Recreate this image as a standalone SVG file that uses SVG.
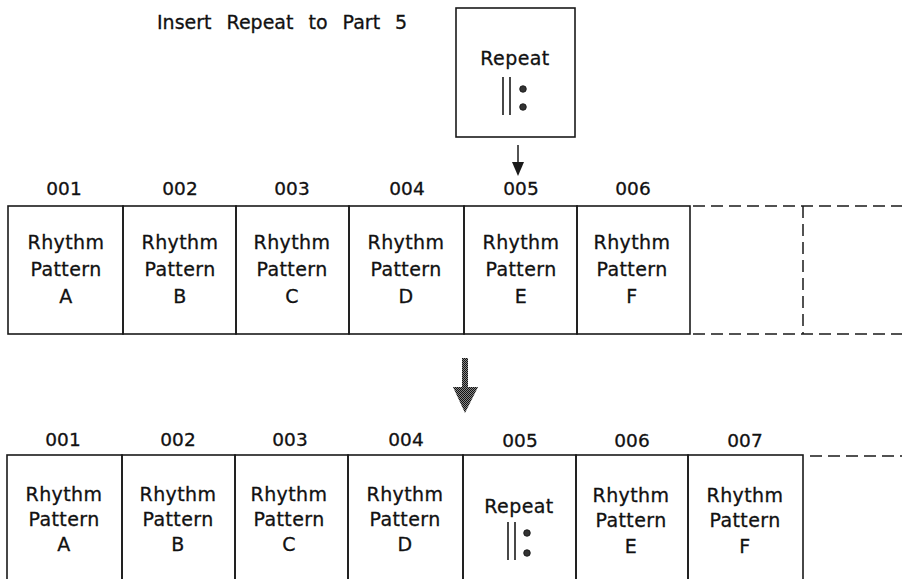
<svg xmlns="http://www.w3.org/2000/svg" width="902" height="579" viewBox="0 0 902 579">
<style>
  text { font-family: "DejaVu Sans", "Liberation Sans", sans-serif; fill: #111; stroke: #111; stroke-width: 0.3px; }
  .t { font-size: 19px; text-anchor: middle; letter-spacing: 0.4px; }
  .n { font-size: 18.5px; text-anchor: middle; }
  .cell { fill: none; stroke: #1a1a1a; stroke-width: 1.6; }
  .dash { fill: none; stroke: #1a1a1a; stroke-width: 1.5; stroke-dasharray: 12 6; }
  .bar { stroke: #1a1a1a; stroke-width: 1.6; }
  .dot { fill: #333; stroke: #111; stroke-width: 0.8; }
</style>
<defs>
  <pattern id="dither" width="2" height="2" patternUnits="userSpaceOnUse">
    <rect width="2" height="2" fill="#888"/>
    <rect x="0" y="0" width="1" height="1" fill="#111"/>
    <rect x="1" y="1" width="1" height="1" fill="#111"/>
  </pattern>
</defs>
<rect width="902" height="579" fill="#fff"/>

<g id="title">
  <text x="157" y="29" style="font-size:19px; word-spacing:9px">Insert Repeat to Part 5</text>
</g>

<g id="repeat-source">
  <rect class="cell" x="456" y="8" width="119" height="129"/>
  <text class="t" x="515" y="65">Repeat</text>
  <line class="bar" x1="503" y1="77" x2="503" y2="115"/>
  <line class="bar" x1="510" y1="77" x2="510" y2="115"/>
  <circle class="dot" cx="523" cy="89" r="3.3"/>
  <circle class="dot" cx="523" cy="107" r="3.3"/>
</g>

<!-- top row -->
<g id="top-001">
  <rect class="cell" x="8" y="206" width="115" height="128"/>
  <text class="n" x="64" y="195">001</text>
  <text class="t" x="66" y="249">Rhythm</text><text class="t" x="66" y="276">Pattern</text><text class="t" x="66" y="303">A</text>
</g>
<g id="top-002">
  <rect class="cell" x="123" y="206" width="113" height="128"/>
  <text class="n" x="180" y="195">002</text>
  <text class="t" x="180" y="249">Rhythm</text><text class="t" x="180" y="276">Pattern</text><text class="t" x="180" y="303">B</text>
</g>
<g id="top-003">
  <rect class="cell" x="236" y="206" width="113" height="128"/>
  <text class="n" x="292" y="195">003</text>
  <text class="t" x="292" y="249">Rhythm</text><text class="t" x="292" y="276">Pattern</text><text class="t" x="292" y="303">C</text>
</g>
<g id="top-004">
  <rect class="cell" x="349" y="206" width="115" height="128"/>
  <text class="n" x="407" y="195">004</text>
  <text class="t" x="406" y="249">Rhythm</text><text class="t" x="406" y="276">Pattern</text><text class="t" x="406" y="303">D</text>
</g>
<g id="top-005">
  <rect class="cell" x="464" y="206" width="113" height="128"/>
  <text class="n" x="521" y="195">005</text>
  <text class="t" x="521" y="249">Rhythm</text><text class="t" x="521" y="276">Pattern</text><text class="t" x="521" y="303">E</text>
</g>
<g id="top-006">
  <rect class="cell" x="577" y="206" width="113" height="128"/>
  <text class="n" x="633" y="195">006</text>
  <text class="t" x="632" y="249">Rhythm</text><text class="t" x="632" y="276">Pattern</text><text class="t" x="632" y="303">F</text>
</g>
<g id="top-empty">
  <line class="dash" x1="693" y1="206" x2="902" y2="206"/>
  <line class="dash" x1="693" y1="334" x2="902" y2="334"/>
  <line class="dash" x1="803" y1="206" x2="803" y2="334"/>
</g>

<!-- bottom row -->
<g id="bot-001">
  <rect class="cell" x="7" y="455" width="115" height="140"/>
  <text class="n" x="63" y="446">001</text>
  <text class="t" x="64" y="501">Rhythm</text><text class="t" x="64" y="526">Pattern</text><text class="t" x="64" y="551">A</text>
</g>
<g id="bot-002">
  <rect class="cell" x="122" y="455" width="113" height="140"/>
  <text class="n" x="178" y="446">002</text>
  <text class="t" x="178" y="501">Rhythm</text><text class="t" x="178" y="526">Pattern</text><text class="t" x="178" y="551">B</text>
</g>
<g id="bot-003">
  <rect class="cell" x="235" y="455" width="113" height="140"/>
  <text class="n" x="290" y="446">003</text>
  <text class="t" x="289" y="501">Rhythm</text><text class="t" x="289" y="526">Pattern</text><text class="t" x="289" y="551">C</text>
</g>
<g id="bot-004">
  <rect class="cell" x="348" y="455" width="115" height="140"/>
  <text class="n" x="406" y="446">004</text>
  <text class="t" x="405" y="501">Rhythm</text><text class="t" x="405" y="526">Pattern</text><text class="t" x="405" y="551">D</text>
</g>
<g id="bot-005">
  <rect class="cell" x="463" y="455" width="113" height="140"/>
  <text class="n" x="520" y="447">005</text>
  <text class="t" x="519" y="513">Repeat</text>
  <line class="bar" x1="508" y1="522" x2="508" y2="560"/>
  <line class="bar" x1="515" y1="522" x2="515" y2="560"/>
  <circle class="dot" cx="527" cy="533" r="3.3"/>
  <circle class="dot" cx="527" cy="553" r="3.3"/>
</g>
<g id="bot-006">
  <rect class="cell" x="576" y="455" width="112" height="140"/>
  <text class="n" x="632" y="447">006</text>
  <text class="t" x="631" y="502">Rhythm</text><text class="t" x="631" y="527">Pattern</text><text class="t" x="631" y="553">E</text>
</g>
<g id="bot-007">
  <rect class="cell" x="688" y="455" width="115" height="140"/>
  <text class="n" x="745" y="447">007</text>
  <text class="t" x="745" y="502">Rhythm</text><text class="t" x="745" y="527">Pattern</text><text class="t" x="745" y="553">F</text>
</g>
<g id="bot-empty">
  <line class="dash" x1="810" y1="456" x2="902" y2="456"/>
</g>

<g id="connectors">
  <line x1="518" y1="145" x2="518" y2="164" stroke="#1a1a1a" stroke-width="1.5"/>
  <polygon points="512,162 524,162 518,176" fill="#1a1a1a"/>
  <rect x="462" y="358" width="6" height="30" fill="url(#dither)"/>
  <polygon points="453,387 478,387 465,413" fill="url(#dither)"/>
</g>
</svg>
